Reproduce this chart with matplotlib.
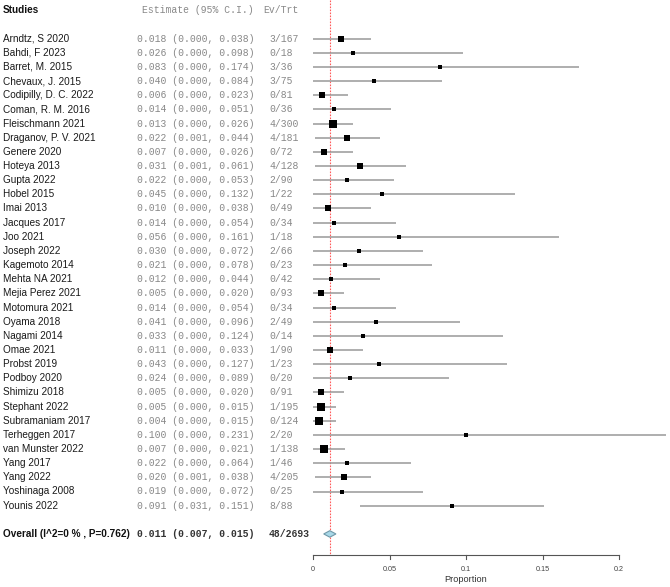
import numpy as np
import matplotlib
matplotlib.use("Agg")
import matplotlib.pyplot as plt
from matplotlib.transforms import blended_transform_factory
from matplotlib.patches import Polygon

studies = ["Arndtz, S 2020", "Bahdi, F 2023", "Barret, M. 2015", "Chevaux, J. 2015",
           "Codipilly, D. C. 2022", "Coman, R. M. 2016", "Fleischmann 2021",
           "Draganov, P. V. 2021", "Genere 2020", "Hoteya 2013", "Gupta 2022",
           "Hobel 2015", "Imai 2013", "Jacques 2017", "Joo 2021", "Joseph 2022",
           "Kagemoto 2014", "Mehta NA 2021", "Mejia Perez 2021", "Motomura 2021",
           "Oyama 2018", "Nagami 2014", "Omae 2021", "Probst 2019", "Podboy 2020",
           "Shimizu 2018", "Stephant 2022", "Subramaniam 2017", "Terheggen 2017",
           "van Munster 2022", "Yang 2017", "Yang 2022", "Yoshinaga 2008", "Younis 2022"]
estimates = [0.018, 0.026, 0.083, 0.040, 0.006, 0.014, 0.013, 0.022, 0.007, 0.031,
             0.022, 0.045, 0.010, 0.014, 0.056, 0.030, 0.021, 0.012, 0.005, 0.014,
             0.041, 0.033, 0.011, 0.043, 0.024, 0.005, 0.005, 0.004, 0.100, 0.007,
             0.022, 0.020, 0.019, 0.091]
lower = [0.000, 0.000, 0.000, 0.000, 0.000, 0.000, 0.000, 0.001, 0.000, 0.001,
         0.000, 0.000, 0.000, 0.000, 0.000, 0.000, 0.000, 0.000, 0.000, 0.000,
         0.000, 0.000, 0.000, 0.000, 0.000, 0.000, 0.000, 0.000, 0.000, 0.000,
         0.000, 0.001, 0.000, 0.031]
upper = [0.038, 0.098, 0.174, 0.084, 0.023, 0.051, 0.026, 0.044, 0.026, 0.061,
         0.053, 0.132, 0.038, 0.054, 0.161, 0.072, 0.078, 0.044, 0.020, 0.054,
         0.096, 0.124, 0.033, 0.127, 0.089, 0.020, 0.015, 0.015, 0.231, 0.021,
         0.064, 0.038, 0.072, 0.151]
ev_trt = ["3/167", "0/18", "3/36", "3/75", "0/81", "0/36", "4/300", "4/181", "0/72",
          "4/128", "2/90", "1/22", "0/49", "0/34", "1/18", "2/66", "0/23", "0/42",
          "0/93", "0/34", "2/49", "0/14", "1/90", "1/23", "0/20", "0/91", "1/195",
          "0/124", "2/20", "1/138", "1/46", "4/205", "0/25", "8/88"]
overall_label = "Overall (I^2=0 % , P=0.762)"
overall_est, overall_lo, overall_hi = 0.011, 0.007, 0.015
overall_ev = "48/2693"
xticks = [0, 0.05, 0.1, 0.15, 0.2]
xtick_labels = ["0", "0.05", "0.1", "0.15", "0.2"]

W, H = 670, 587
fig = plt.figure(figsize=(W / 100, H / 100), dpi=100)
ax = fig.add_axes([0, 0, 1, 1])
ax.axis("off")

# pixel geometry
x0_px, scale = 313.0, 1530.0   # pixel of 0 and pixels per unit proportion
y0_px, row_h = 38.7, 14.15
ax.set_xlim(-x0_px / scale, (W - x0_px) / scale)
ax.set_ylim((H - y0_px) / row_h, -y0_px / row_h)

tr = blended_transform_factory(ax.transAxes, ax.transData)
sans = "Liberation Sans"
mono = "Liberation Mono"
grey_txt = "#888888"

n = len(studies)
rows = np.arange(n)
overall_row = n + 1
axis_row = (555 - y0_px) / row_h

# header
ax.text(3 / W, -2, "Studies", transform=tr, family=sans, fontweight="bold",
        fontsize=7.2, va="center", ha="left", color="#111111")
ax.text(142 / W, -2, "Estimate (95% C.I.)", transform=tr, family=mono,
        fontsize=7, va="center", ha="left", color=grey_txt)
ax.text(263 / W, -2, "Ev/Trt", transform=tr, family=mono,
        fontsize=7, va="center", ha="left", color=grey_txt)

# marker sizes from precision
est = np.array(estimates)
up = np.array(upper)
prec = 1.96 / (up - est)
side_px = 3.6 + 5.2 * (prec - prec.min()) / (prec.max() - prec.min())

for i in rows:
    ax.text(3 / W, i, studies[i], transform=tr, family=sans, fontsize=7.2,
            va="center", ha="left", color="#1a1a1a")
    ax.text(137 / W, i, f"{estimates[i]:.3f} ({lower[i]:.3f}, {upper[i]:.3f})",
            transform=tr, family=mono, fontsize=7, va="center", ha="left", color=grey_txt)
    ax.text(269 / W, i, ev_trt[i], transform=tr, family=mono, fontsize=7,
            va="center", ha="left", color=grey_txt)
    ax.plot([lower[i], upper[i]], [i, i], color="#999999", lw=1.1,
            solid_capstyle="butt", zorder=2)
    ax.plot(estimates[i], i, marker="s", color="black", markersize=side_px[i] * 0.72,
            markeredgewidth=0, zorder=3)

# overall
ax.text(3 / W, overall_row, overall_label, transform=tr, family=sans,
        fontweight="bold", fontsize=7.2, va="center", ha="left", color="#111111")
ax.text(137 / W, overall_row, f"{overall_est:.3f} ({overall_lo:.3f}, {overall_hi:.3f})",
        transform=tr, family=mono, fontweight="bold", fontsize=7, va="center",
        ha="left", color="#333333")
ax.text(269 / W, overall_row, overall_ev, transform=tr, family=mono,
        fontweight="bold", fontsize=7, va="center", ha="left", color="#333333")
dh = 0.23
diamond = Polygon([[overall_lo, overall_row], [overall_est, overall_row - dh],
                   [overall_hi, overall_row], [overall_est, overall_row + dh]],
                  closed=True, facecolor="#a8d8e8", edgecolor="#6f98a8", lw=0.8, zorder=4)
ax.add_patch(diamond)

# reference line at overall estimate
ax.plot([overall_est, overall_est], [-y0_px / row_h, axis_row], color="#ff5a5a",
        lw=0.8, linestyle=(0, (1.5, 1.2)), zorder=1)

# x axis
ax.plot([xticks[0], xticks[-1]], [axis_row, axis_row], color="#555555", lw=0.8)
for t, lab in zip(xticks, xtick_labels):
    ax.plot([t, t], [axis_row, axis_row + 0.3], color="#555555", lw=0.8)
    ax.text(t, axis_row + 1.0, lab, family=sans, fontsize=5.2, ha="center",
            va="center", color="#444444")
ax.text(0.1, axis_row + 1.75, "Proportion", family=sans, fontsize=6.6,
        ha="center", va="center", color="#333333")

fig.savefig("out.png", dpi=100)
